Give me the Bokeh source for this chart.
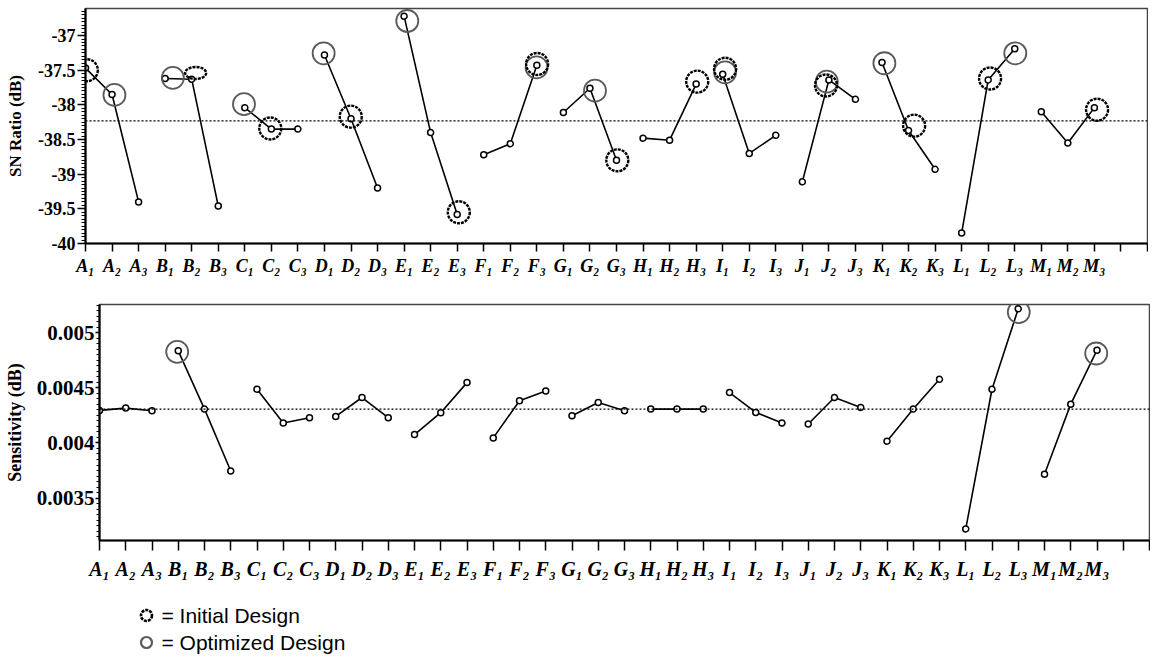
from bokeh.plotting import figure
from bokeh.models import Range1d, FixedTicker, SingleIntervalTicker, PrintfTickFormatter, Span
from bokeh.core.properties import value
from bokeh.embed import file_html
from bokeh.resources import INLINE

factors = list("ABCDEFGHIJKLM")
subs = ["\u2081", "\u2082", "\u2083"]
x_labels = [f + s for f in factors for s in subs]

sn_ratio = [-37.47, -37.85, -39.40,
            -37.62, -37.63, -39.46,
            -38.04, -38.35, -38.35,
            -37.28, -38.20, -39.20,
            -36.72, -38.40, -39.58,
            -38.72, -38.56, -37.43,
            -38.11, -37.76, -38.80,
            -38.48, -38.51, -37.70,
            -37.56, -38.70, -38.44,
            -39.11, -37.64, -37.92,
            -37.39, -38.37, -38.93,
            -39.85, -37.64, -37.19,
            -38.10, -38.55, -38.04]

sensitivity = [0.004295, 0.004316, 0.004292,
               0.004835, 0.004307, 0.003746,
               0.004487, 0.004181, 0.004229,
               0.004241, 0.004412, 0.004229,
               0.004076, 0.004274, 0.004547,
               0.004046, 0.004382, 0.004472,
               0.004247, 0.004367, 0.004292,
               0.004307, 0.004307, 0.004307,
               0.004457, 0.004277, 0.004181,
               0.004172, 0.004412, 0.004322,
               0.004016, 0.004307, 0.004577,
               0.003221, 0.004487, 0.005216,
               0.003716, 0.004352, 0.004841]

sn_mean = -38.23
sens_mean = 0.004307

# circle centres (x in level index units)
init_sn_x = [0.05, 6.96, 9.99, 14.06, 17.01, 20.03, 23.04, 24.09, 27.89, 31.21, 34.07, 38.10]
init_sn_y = [-37.50, -38.34, -38.17, -39.55, -37.41, -38.80, -37.665, -37.48, -37.72, -38.30, -37.62, -38.07]
init_sn_ellipse_x = [4.15]
init_sn_ellipse_y = [-37.54]
opt_sn_x = [1.09, 3.29, 5.97, 8.97, 12.12, 16.99, 19.19, 24.09, 27.92, 30.09, 35.02]
opt_sn_y = [-37.857, -37.61, -37.99, -37.256, -36.79, -37.46, -37.795, -37.53, -37.665, -37.40, -37.256]
opt_sens_x = [2.96, 35.02, 37.97]
opt_sens_y = [0.004826, 0.005186, 0.004811]

sn_tick_step = 0.5
sens_tick_step = 0.0005

legend_labels = ["= Initial Design", "= Optimized Design"]

SERIF = "Liberation Serif"
SANS = "Liberation Sans"

xs_idx = list(range(len(x_labels)))
groups_x = [xs_idx[i:i + 3] for i in range(0, len(xs_idx), 3)]


def style(p, ystep, ylab, ylab_size, ytick_size, xtick_size, ytick_out, yminor_out, ystand,
          ylab_stand, xtick_out, xstand):
    p.xgrid.visible = False
    p.ygrid.visible = False
    p.outline_line_color = "#444444"
    p.outline_line_width = 1.5
    xa = p.xaxis[0]
    xa.ticker = FixedTicker(ticks=list(range(41)))
    xa.major_label_overrides = {i: (x_labels[i] if i < len(x_labels) else "") for i in range(41)}
    xa.major_label_text_font = SERIF
    xa.major_label_text_font_style = "bold italic"
    xa.major_label_text_font_size = f"{xtick_size}px"
    xa.major_label_text_color = "black"
    xa.major_tick_out = xtick_out
    xa.major_tick_in = 0
    xa.minor_tick_out = 0
    xa.minor_tick_in = 0
    xa.major_label_standoff = xstand
    xa.axis_line_width = 2.2
    xa.major_tick_line_width = 1.5
    xa.major_tick_line_color = "black"
    ya = p.yaxis[0]
    ya.ticker = SingleIntervalTicker(interval=ystep, num_minor_ticks=10)
    ya.formatter = PrintfTickFormatter(format="%.4g")
    ya.major_label_text_font = SERIF
    ya.major_label_text_font_style = "bold"
    ya.major_label_text_font_size = f"{ytick_size}px"
    ya.major_label_text_color = "black"
    ya.major_tick_out = ytick_out
    ya.major_tick_in = 0
    ya.minor_tick_out = yminor_out
    ya.minor_tick_in = 0
    ya.minor_tick_line_color = "black"
    ya.minor_tick_line_width = 1.2
    ya.major_label_standoff = ystand
    ya.axis_line_width = 2.2
    ya.major_tick_line_width = 1.5
    ya.major_tick_line_color = "black"
    ya.axis_label = ylab
    ya.axis_label_text_font = SERIF
    ya.axis_label_text_font_style = "bold"
    ya.axis_label_text_font_size = f"{ylab_size}px"
    ya.axis_label_text_color = "black"
    ya.axis_label_standoff = ylab_stand


# ---------------- top chart ----------------
p1 = figure(width=1148, height=289, x_range=Range1d(0, 40), y_range=Range1d(-40, -36.61),
            output_backend="svg", toolbar_location=None,
            min_border_left=85, min_border_right=1, min_border_top=8, min_border_bottom=46)
style(p1, sn_tick_step, "SN Ratio (dB)", 17, 18, 18, 8, 4, 2, 10, 8, 4)
p1.add_layout(Span(location=sn_mean, dimension="width", line_color="black",
                   line_dash="2 2", line_width=1.2))
p1.multi_line([g for g in groups_x], [[sn_ratio[i] for i in g] for g in groups_x],
              line_color="black", line_width=1.6)
p1.scatter(xs_idx, sn_ratio, size=6, marker="circle", fill_color="white",
           line_color="black", line_width=1.5)
p1.scatter(opt_sn_x, opt_sn_y, size=22, marker="circle", fill_color=None,
           line_color="#5a5a5a", line_width=1.8)
p1.scatter(init_sn_x, init_sn_y, size=22, marker="circle", fill_color=None,
           line_color="black", line_width=2.4, line_dash="3 1")
p1.ellipse(init_sn_ellipse_x, init_sn_ellipse_y, width=21, height=12,
           width_units="screen", height_units="screen", fill_color=None,
           line_color="black", line_width=2.4, line_dash="3 1")

# ---------------- bottom chart ----------------
p2 = figure(width=1150, height=293, x_range=Range1d(0, 40), y_range=Range1d(0.003116, 0.005255),
            output_backend="svg", toolbar_location=None,
            min_border_left=99, min_border_right=1, min_border_top=15, min_border_bottom=40)
style(p2, sens_tick_step, "Sensitivity (dB)", 18, 21, 20, 4, 3, 1, 9, 10, 7)
p2.add_layout(Span(location=sens_mean, dimension="width", line_color="black",
                   line_dash="2 2", line_width=1.2))
p2.multi_line([g for g in groups_x], [[sensitivity[i] for i in g] for g in groups_x],
              line_color="black", line_width=1.6)
p2.scatter(xs_idx, sensitivity, size=6, marker="circle", fill_color="white",
           line_color="black", line_width=1.5)
p2.scatter(opt_sens_x, opt_sens_y, size=22, marker="circle", fill_color=None,
           line_color="#5a5a5a", line_width=1.8)

# ---------------- legend ----------------
p3 = figure(width=1150, height=74, x_range=Range1d(0, 1150), y_range=Range1d(74, 0),
            output_backend="svg", toolbar_location=None,
            min_border=0, x_axis_location=None, y_axis_location=None)
p3.xgrid.visible = False
p3.ygrid.visible = False
p3.outline_line_color = None
leg_x = 146
leg_y = [33, 60]
p3.scatter([leg_x], [leg_y[0]], size=11, marker="circle", fill_color=None,
           line_color="black", line_width=2.6, line_dash="3 1")
p3.scatter([leg_x], [leg_y[1]], size=11, marker="circle", fill_color=None,
           line_color="#5a5a5a", line_width=2.2)
p3.text([leg_x + 15] * 2, leg_y, text=legend_labels, text_font=value(SANS),
        text_font_size="21px", text_baseline="middle", text_align="left", text_color="black")

# separate roots so that Bokeh does not align the plot frames
open("out.html", "w").write(file_html([p1, p2, p3], INLINE))
